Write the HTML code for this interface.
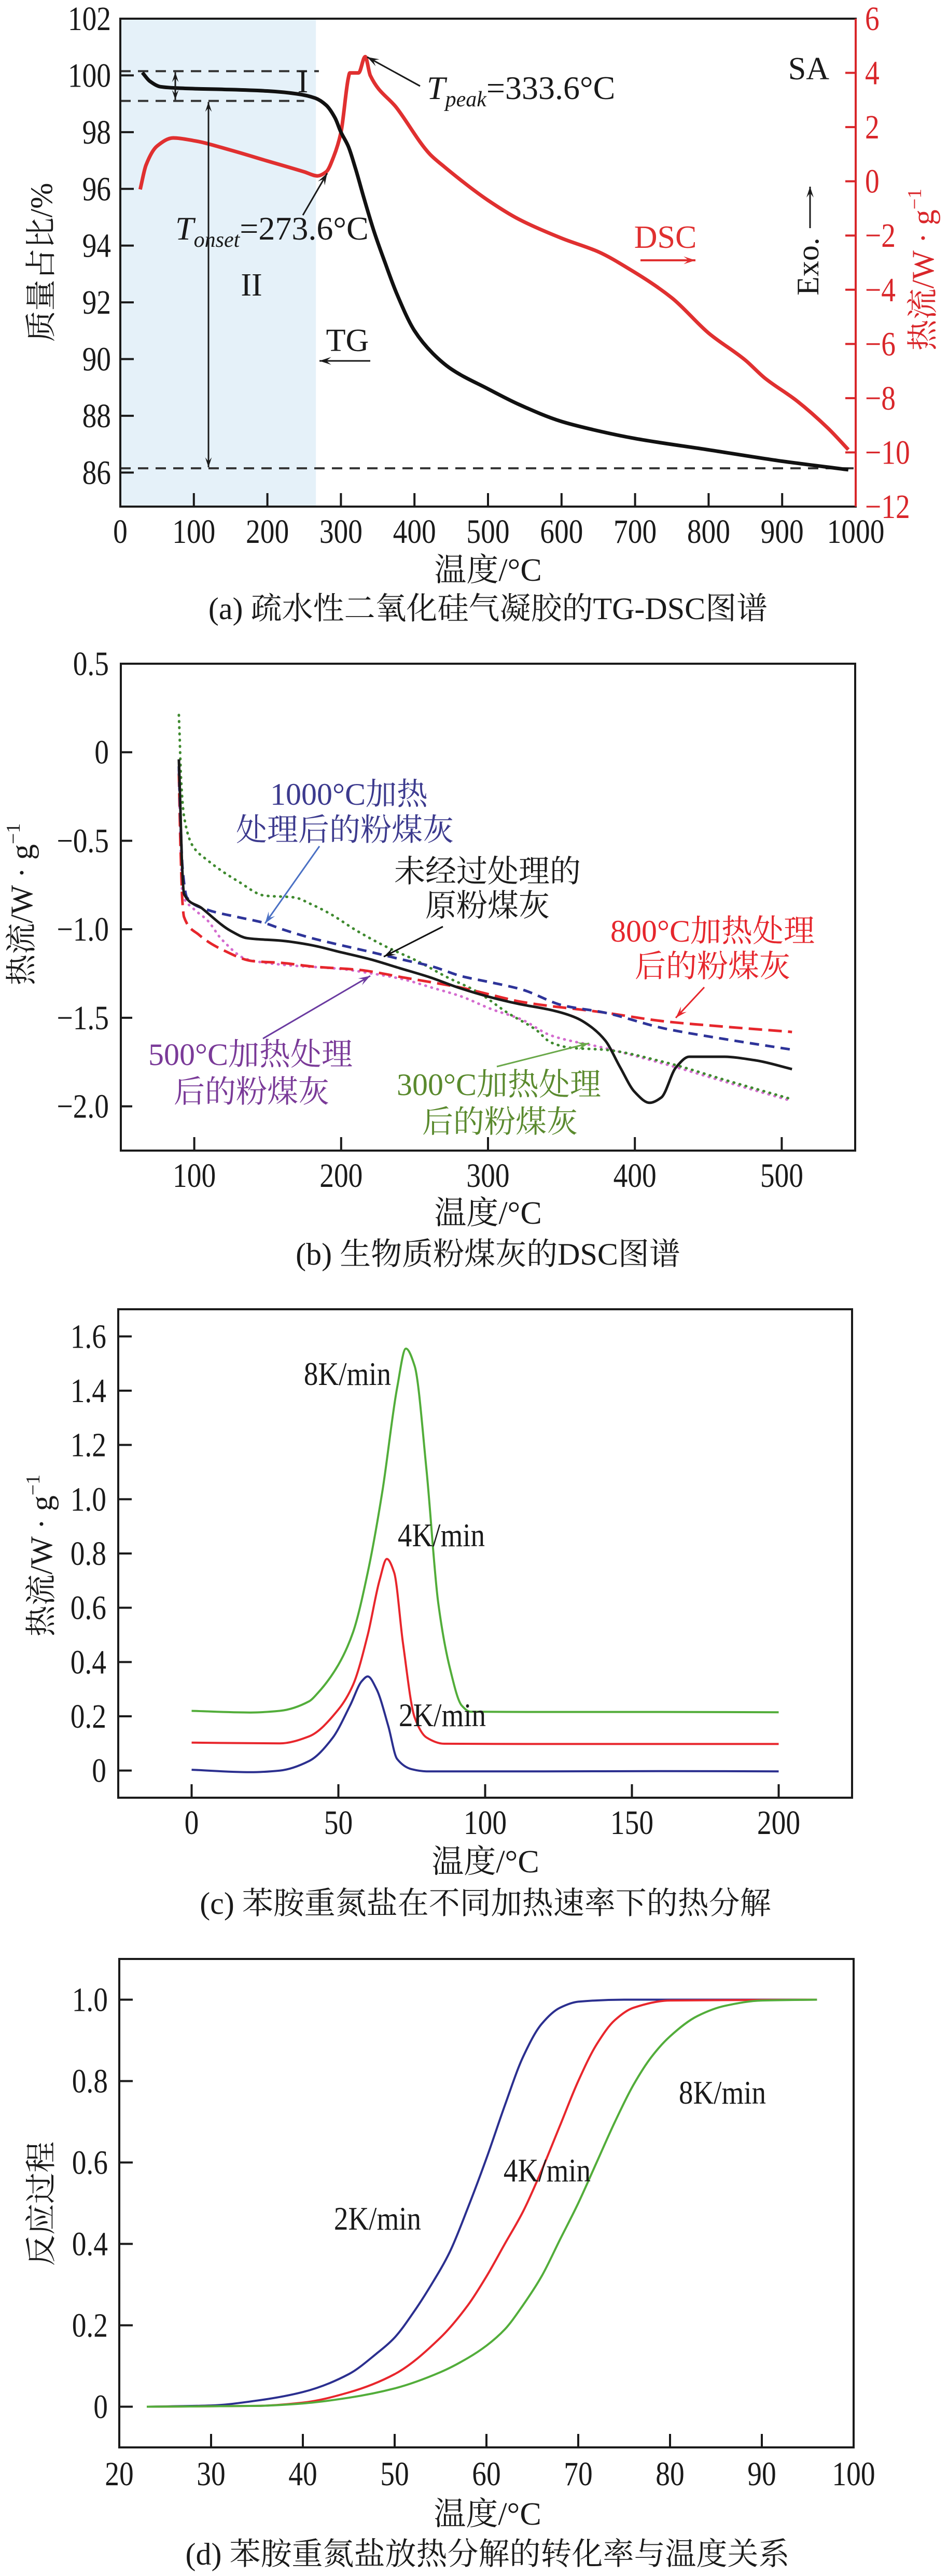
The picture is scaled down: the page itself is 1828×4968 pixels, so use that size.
<!DOCTYPE html>
<html><head><meta charset="utf-8"><style>
html,body{margin:0;padding:0;background:#fff;}
svg{display:block;}
</style></head><body>
<svg id="fig" xmlns="http://www.w3.org/2000/svg" width="1828" height="4968" viewBox="0 0 1828 4968"></svg>
<script>
// ---------- Panel (a) data ----------
const tgTemp = [30,40,55,80,150,200,240,265,280,292,300,310,320,331,345,360,376,400,425,450,500,542,600,653,700,800,900,990];
const tgMass = [100.1,99.8,99.6,99.55,99.5,99.45,99.35,99.2,98.95,98.5,98.0,97.5,96.7,95.7,94.5,93.4,92.3,91.0,90.2,89.65,88.95,88.4,87.8,87.45,87.2,86.8,86.4,86.1];
const dscTemp = [27,35,50,72,100,150,200,250,268,280,290,300,310,312,324,333,340,376,421,440,500,542,600,650,690,750,800,850,876,920,962,990];
const dscFlow = [-0.3,0.6,1.3,1.6,1.5,1.15,0.75,0.35,0.2,0.35,0.9,1.8,3.8,4.0,4.0,4.6,3.9,2.7,1.0,0.55,-0.7,-1.4,-2.1,-2.6,-3.2,-4.3,-5.6,-6.6,-7.25,-8.1,-9.1,-9.9];
const aXTicks = [0,100,200,300,400,500,600,700,800,900,1000];
const aYTicks = [86,88,90,92,94,96,98,100,102];
const aY2Ticks = [6,4,2,0,-2,-4,-6,-8,-10,-12];
// ---------- Panel (b) data ----------
const bBlackT = [89.5,90.5,91.5,93,105,125,136,160,180,200,220,240,260,280,300,320,345,360,370,380,390,400,410,418,428,437,460,482,507];
const bBlackV = [-0.04,-0.3,-0.6,-0.8,-0.88,-1.01,-1.05,-1.065,-1.09,-1.13,-1.17,-1.22,-1.27,-1.33,-1.38,-1.42,-1.46,-1.5,-1.55,-1.63,-1.78,-1.92,-1.98,-1.95,-1.78,-1.72,-1.72,-1.74,-1.79];
const bBlueT = [89.5,90.5,92,95,109,129,148,160,180,200,221,241,262,282,302,323,351,379,420,461,507];
const bBlueV = [-0.08,-0.35,-0.65,-0.82,-0.89,-0.93,-0.965,-1.0,-1.05,-1.09,-1.13,-1.17,-1.21,-1.265,-1.30,-1.34,-1.43,-1.47,-1.56,-1.62,-1.68];
const bRedT = [89.5,90.5,92,93,103,119,140,160,180,213,225,241,262,282,302,323,379,420,461,507];
const bRedV = [-0.12,-0.5,-0.85,-0.93,-1.03,-1.115,-1.18,-1.19,-1.21,-1.23,-1.245,-1.27,-1.30,-1.33,-1.37,-1.41,-1.47,-1.52,-1.55,-1.58];
const bPinkT = [89.5,90.5,92,99,109,119,136,160,201,221,241,262,282,302,323,343,379,420,461,507];
const bPinkV = [-0.1,-0.45,-0.8,-0.88,-0.95,-1.06,-1.17,-1.20,-1.225,-1.25,-1.28,-1.33,-1.38,-1.45,-1.51,-1.60,-1.67,-1.76,-1.86,-1.97];
const bGreenT = [89.5,90,91,93,99,109,130,148,168,180,192,211,231,252,272,292,313,333,343,357,379,420,461,507];
const bGreenV = [0.21,0.1,-0.15,-0.36,-0.53,-0.61,-0.73,-0.81,-0.82,-0.86,-0.91,-1.01,-1.10,-1.18,-1.27,-1.35,-1.47,-1.57,-1.64,-1.67,-1.68,-1.75,-1.85,-1.96];
const bXTicks = [100,200,300,400,500];
const bYTicks = [0.5,0,-0.5,-1.0,-1.5,-2.0];
// ---------- Panel (c) data ----------
const c8T = [0,20,30,40,43,50,55,60,65,70,73,76,80,84,88,92,95,120,160,200];
const c8V = [0.22,0.214,0.22,0.255,0.286,0.39,0.51,0.73,1.03,1.41,1.555,1.49,1.11,0.62,0.377,0.24,0.217,0.216,0.216,0.215];
const c4T = [0,30,40,50,55,60,64,66.5,69,72,76,80,86,120,160,200];
const c4V = [0.103,0.1,0.126,0.225,0.316,0.5,0.70,0.78,0.73,0.47,0.195,0.122,0.099,0.098,0.098,0.098];
const c2T = [0,20,30,40,48,54,58,60,63,67,70,75,80,120,160,200];
const c2V = [0.003,-0.006,0.0,0.035,0.12,0.24,0.33,0.347,0.30,0.164,0.043,0.005,-0.003,-0.003,-0.002,-0.003];
const cXTicks = [0,50,100,150,200];
const cYTicks = [0,0.2,0.4,0.6,0.8,1.0,1.2,1.4,1.6];
// ---------- Panel (d) data ----------
const d2T = [23,30,35,40,45,48,50,52,54,56,58,60,62,64,66,68,70,75,96];
const d2V = [0,0.003,0.015,0.036,0.08,0.13,0.17,0.23,0.30,0.38,0.49,0.61,0.74,0.86,0.94,0.98,0.995,1.0,1.0];
const d4T = [23,35,40,45,50,55,58,60,62,64,66,68,70,72,74,76,80,96];
const d4V = [0,0.002,0.01,0.035,0.08,0.17,0.25,0.32,0.40,0.48,0.58,0.69,0.80,0.89,0.95,0.98,0.998,1.0];
const d8T = [23,35,40,45,50,55,58,60,62,64,66,68,70,72,74,76,78,80,83,86,90,96];
const d8V = [0,0.002,0.008,0.022,0.045,0.085,0.12,0.15,0.19,0.25,0.32,0.41,0.50,0.60,0.70,0.79,0.86,0.91,0.96,0.985,0.998,1.0];
const dXTicks = [20,30,40,50,60,70,80,90,100];
const dYTicks = [0,0.2,0.4,0.6,0.8,1.0];

const NS = 'http://www.w3.org/2000/svg';
const svg = document.getElementById('fig');
const SERIF = '"Liberation Serif","Noto Serif CJK SC",serif';

function mk(tag, attrs, parent, name) {
  const el = document.createElementNS(NS, tag);
  for (const k in attrs) el.setAttribute(k, attrs[k]);
  
  
  (parent || svg).appendChild(el);
  return el;
}
function txt(str, x, y, o, name) {
  o = o || {};
  const t = document.createElementNS(NS, 'text');
  
  
  t.setAttribute('x', 0); t.setAttribute('y', 0);
  t.setAttribute('font-family', SERIF);
  t.setAttribute('font-size', o.size || 64);
  t.setAttribute('fill', o.fill || '#1a1a1a');
  t.setAttribute('text-anchor', o.anchor || 'start');
  if (o.italic) t.setAttribute('font-style', 'italic');
  t.setAttribute('transform', `translate(${x},${y}) rotate(${o.rot || 0}) scale(${o.sx || 1},1)`);
  t.textContent = str;
  svg.appendChild(t);
  return t;
}
// monotone cubic (Fritsch-Carlson) in pixel space, x strictly increasing
function smooth(pts) {
  const n = pts.length;
  const dx = [], s = [];
  for (let i = 0; i < n - 1; i++) {
    dx.push(pts[i + 1][0] - pts[i][0]);
    s.push((pts[i + 1][1] - pts[i][1]) / dx[i]);
  }
  const m = new Array(n);
  m[0] = s[0]; m[n - 1] = s[n - 2];
  for (let i = 1; i < n - 1; i++) {
    if (s[i - 1] * s[i] <= 0) m[i] = 0;
    else {
      const w1 = 2 * dx[i] + dx[i - 1], w2 = dx[i] + 2 * dx[i - 1];
      m[i] = (w1 + w2) / (w1 / s[i - 1] + w2 / s[i]);
    }
  }
  let d = `M${pts[0][0].toFixed(1)},${pts[0][1].toFixed(1)}`;
  for (let i = 0; i < n - 1; i++) {
    const h = dx[i] / 3;
    d += ` C${(pts[i][0] + h).toFixed(1)},${(pts[i][1] + m[i] * h).toFixed(1)} ${(pts[i + 1][0] - h).toFixed(1)},${(pts[i + 1][1] - m[i + 1] * h).toFixed(1)} ${pts[i + 1][0].toFixed(1)},${pts[i + 1][1].toFixed(1)}`;
  }
  return d;
}
function series(xs, ys, sx, sy, style, name) {
  const pts = xs.map((x, i) => [sx(x), sy(ys[i])]);
  const a = Object.assign({ d: smooth(pts), fill: 'none', 'stroke-linejoin': 'round' }, style);
  return mk('path', a, svg, name);
}
function line(x1, y1, x2, y2, style, name) {
  return mk('line', Object.assign({ x1, y1, x2, y2 }, style), svg, name);
}
function arrow(x1, y1, x2, y2, color, w, name, head) {
  head = head || 26;
  line(x1, y1, x2, y2, { stroke: color, 'stroke-width': w }, name);
  const ang = Math.atan2(y2 - y1, x2 - x1);
  const a1 = ang + Math.PI - 0.32, a2 = ang + Math.PI + 0.32;
  const p = `${x2},${y2} ${x2 + head * Math.cos(a1)},${y2 + head * Math.sin(a1)} ${x2 - head * 0.55 * Math.cos(ang)},${y2 - head * 0.55 * Math.sin(ang)} ${x2 + head * Math.cos(a2)},${y2 + head * Math.sin(a2)}`;
  mk('polygon', { points: p, fill: color }, svg, name + '-head');
}
function frame(L, T, R, B, name) {
  mk('rect', { x: L, y: T, width: R - L, height: B - T, fill: 'none', stroke: '#1a1a1a', 'stroke-width': 4 }, svg, name);
}
function lin(d0, d1, r0, r1) { return v => r0 + (v - d0) / (d1 - d0) * (r1 - r0); }
function sup(parent, str, dy, size, name, extra) {
  const t = document.createElementNS(NS, 'tspan');
  
  
  t.setAttribute('dy', dy); if (size) t.setAttribute('font-size', size);
  if (extra) t.setAttribute('font-style', extra);
  t.textContent = str;
  parent.appendChild(t);
}

// =============== Panel (a) ===============
{
  const L = 232, R = 1650, T = 36, B = 977;
  const xa = lin(0, 1000, L, R), ya = lin(102, 84.8, T, B), y2 = lin(6, -12, T, B);
  mk('rect', { x: L, y: T, width: xa(266) - L, height: B - T, fill: '#e5f1f9' }, svg, 'region-ii-shade');
  line(L, ya(100.15), xa(270), ya(100.15), { stroke: '#333', 'stroke-width': 4, 'stroke-dasharray': '20 14' }, 'ref-line-100');
  line(L, ya(99.1), xa(250), ya(99.1), { stroke: '#333', 'stroke-width': 4, 'stroke-dasharray': '20 14' }, 'ref-line-99');
  line(L, ya(86.15), R, ya(86.15), { stroke: '#333', 'stroke-width': 4, 'stroke-dasharray': '20 14' }, 'ref-line-86');
  series(dscTemp, dscFlow, xa, y2, { stroke: '#e03030', 'stroke-width': 7 }, 'dsc-curve');
  series(tgTemp, tgMass, xa, ya, { stroke: '#111', 'stroke-width': 7 }, 'tg-curve');
  frame(L, T, R, B, 'plot-a-frame');
  line(R, T, R, B, { stroke: '#d9262a', 'stroke-width': 4 }, 'right-axis-line');
  aYTicks.forEach(v => {
    if (v < 102) line(L, ya(v), L + 26, ya(v), { stroke: '#1a1a1a', 'stroke-width': 4 }, 'y-tick');
    txt(String(v), 214, ya(v) + 22, { anchor: 'end', size: 66, sx: 0.84 }, 'y-tick-label');
  });
  aXTicks.forEach(v => {
    if (v > 0 && v < 1000) line(xa(v), B, xa(v), B - 26, { stroke: '#1a1a1a', 'stroke-width': 4 }, 'x-tick');
    txt(String(v), xa(v), 1047, { anchor: 'middle', size: 66, sx: 0.84 }, 'x-tick-label');
  });
  aY2Ticks.forEach(v => {
    if (v < 6 && v > -12) line(R, y2(v), R - 20, y2(v), { stroke: '#d9262a', 'stroke-width': 4 }, 'y2-tick');
    txt(String(v).replace('-', '\u2212'), 1668, y2(v) + 22, { size: 66, sx: 0.84, fill: '#d9262a' }, 'y2-tick-label');
  });
  txt('质量占比/%', 100, 506, { anchor: 'middle', size: 60, rot: -90 }, 'y-axis-title');
  const rt = txt('热流/W · g', 1800, 520, { anchor: 'middle', size: 60, rot: -90, fill: '#d9262a' }, 'y2-axis-title');
  sup(rt, '\u22121', -24, 38, 'y2-axis-title-exponent');
  txt('温度/°C', 941, 1120, { anchor: 'middle', size: 62 }, 'x-axis-title');
  txt('(a) 疏水性二氧化硅气凝胶的TG-DSC图谱', 941, 1194, { anchor: 'middle', size: 60 }, 'caption-a');
  arrow(338, 165, 338, ya(100.15) + 2, '#1a1a1a', 3, 'stage-i-arrow-up', 20);
  arrow(338, 165, 338, ya(99.1) - 2, '#1a1a1a', 3, 'stage-i-arrow-down', 20);
  arrow(402, 550, 402, ya(99.1) + 2, '#1a1a1a', 3, 'stage-ii-arrow-up', 20);
  arrow(402, 550, 402, ya(86.15) - 2, '#1a1a1a', 3, 'stage-ii-arrow-down', 20);
  txt('I', 584, 178, { anchor: 'middle', size: 62 }, 'stage-i-label');
  txt('II', 485, 570, { anchor: 'middle', size: 62 }, 'stage-ii-label');
  const on = txt('T', 338, 462, { size: 64, italic: true }, 'tonset-label');
  sup(on, 'onset', 14, 42, 'tonset-subscript');
  sup(on, '=273.6°C', -14, null, 'tonset-value', 'normal');
  arrow(584, 415, 631, 334, '#1a1a1a', 3, 'tonset-arrow', 24);
  const pk = txt('T', 823, 191, { size: 64, italic: true }, 'tpeak-label');
  sup(pk, 'peak', 14, 42, 'tpeak-subscript');
  sup(pk, '=333.6°C', -14, null, 'tpeak-value', 'normal');
  arrow(810, 166, 708, 110, '#1a1a1a', 3, 'tpeak-arrow', 24);
  txt('TG', 670, 677, { anchor: 'middle', size: 62 }, 'tg-label');
  arrow(714, 696, 616, 696, '#1a1a1a', 3, 'tg-arrow', 24);
  txt('SA', 1599, 153, { anchor: 'end', size: 62 }, 'sample-label');
  txt('DSC', 1283, 478, { anchor: 'middle', size: 62, fill: '#e03030' }, 'dsc-label');
  arrow(1235, 502, 1341, 502, '#e03030', 4, 'dsc-arrow', 24);
  txt('Exo.', 1578, 514, { anchor: 'middle', size: 60, rot: -90 }, 'exo-label');
  arrow(1562, 440, 1562, 360, '#1a1a1a', 3, 'exo-arrow', 22);
}

// =============== Panel (b) ===============
{
  const L = 233, R = 1649, T = 1280, B = 2219;
  const xb = lin(50, 550, L, R), yb = lin(0.5, -2.25, T, B);
  series(bPinkT, bPinkV, xb, yb, { stroke: '#d46ccf', 'stroke-width': 5, 'stroke-dasharray': '1 11', 'stroke-linecap': 'round' }, 'series-500c');
  series(bGreenT, bGreenV, xb, yb, { stroke: '#3f8a2f', 'stroke-width': 5, 'stroke-dasharray': '1 11', 'stroke-linecap': 'round' }, 'series-300c');
  series(bRedT, bRedV, xb, yb, { stroke: '#e6262c', 'stroke-width': 5, 'stroke-dasharray': '26 12' }, 'series-800c');
  series(bBlueT, bBlueV, xb, yb, { stroke: '#2e3499', 'stroke-width': 5, 'stroke-dasharray': '18 12' }, 'series-1000c');
  series(bBlackT, bBlackV, xb, yb, { stroke: '#1a1a1a', 'stroke-width': 5 }, 'series-untreated');
  frame(L, T, R, B, 'plot-b-frame');
  bYTicks.forEach(v => {
    if (v < 0.5) line(L, yb(v), L + 22, yb(v), { stroke: '#1a1a1a', 'stroke-width': 4 }, 'y-tick');
    txt(v === 0 ? '0' : (v < 0 ? '\u2212' : '') + Math.abs(v).toFixed(1), 210, yb(v) + 22, { anchor: 'end', size: 66, sx: 0.84 }, 'y-tick-label');
  });
  bXTicks.forEach(v => {
    line(xb(v), B, xb(v), B - 26, { stroke: '#1a1a1a', 'stroke-width': 4 }, 'x-tick');
    txt(String(v), xb(v), 2289, { anchor: 'middle', size: 66, sx: 0.84 }, 'x-tick-label');
  });
  const bt = txt('热流/W · g', 62, 1744, { anchor: 'middle', size: 60, rot: -90 }, 'y-axis-title');
  sup(bt, '\u22121', -24, 38, 'y-axis-title-exponent');
  txt('温度/°C', 941, 2360, { anchor: 'middle', size: 62 }, 'x-axis-title');
  txt('(b) 生物质粉煤灰的DSC图谱', 941, 2439, { anchor: 'middle', size: 60 }, 'caption-b');
  txt('1000°C加热', 521, 1552, { size: 60, fill: '#3c3a8e' }, 'label-1000c-line1');
  txt('处理后的粉煤灰', 455, 1621, { size: 60, fill: '#3c3a8e' }, 'label-1000c-line2');
  arrow(616, 1632, 511, 1781, '#4a70c4', 3, 'label-1000c-arrow', 24);
  txt('未经过处理的', 760, 1701, { size: 60 }, 'label-untreated-line1');
  txt('原粉煤灰', 820, 1767, { size: 60 }, 'label-untreated-line2');
  arrow(854, 1787, 740, 1845, '#111', 3, 'label-untreated-arrow', 24);
  txt('800°C加热处理', 1177, 1816, { size: 60, fill: '#e6262c' }, 'label-800c-line1');
  txt('后的粉煤灰', 1224, 1884, { size: 60, fill: '#e6262c' }, 'label-800c-line2');
  arrow(1358, 1904, 1303, 1963, '#e6262c', 3, 'label-800c-arrow', 24);
  txt('500°C加热处理', 286, 2054, { size: 60, fill: '#7a3a98' }, 'label-500c-line1');
  txt('后的粉煤灰', 335, 2126, { size: 60, fill: '#7a3a98' }, 'label-500c-line2');
  arrow(507, 2003, 714, 1882, '#6a3aa0', 3, 'label-500c-arrow', 24);
  txt('300°C加热处理', 765, 2112, { size: 60, fill: '#5a8a2e' }, 'label-300c-line1');
  txt('后的粉煤灰', 814, 2184, { size: 60, fill: '#5a8a2e' }, 'label-300c-line2');
  arrow(958, 2057, 1136, 2012, '#6aa84a', 3, 'label-300c-arrow', 24);
}

// =============== Panel (c) ===============
{
  const L = 228, R = 1643, T = 2525, B = 3467;
  const xc = lin(-25, 225, L, R), yc = lin(1.7, -0.1, T, B);
  series(c2T, c2V, xc, yc, { stroke: '#2b2f8f', 'stroke-width': 4 }, 'series-2k');
  series(c4T, c4V, xc, yc, { stroke: '#e8262c', 'stroke-width': 4 }, 'series-4k');
  series(c8T, c8V, xc, yc, { stroke: '#52ad3a', 'stroke-width': 4 }, 'series-8k');
  frame(L, T, R, B, 'plot-c-frame');
  cYTicks.forEach(v => {
    line(L, yc(v), L + 26, yc(v), { stroke: '#1a1a1a', 'stroke-width': 4 }, 'y-tick');
    txt(v === 0 ? '0' : v.toFixed(1), 205, yc(v) + 22, { anchor: 'end', size: 66, sx: 0.84 }, 'y-tick-label');
  });
  cXTicks.forEach(v => {
    line(xc(v), B, xc(v), B - 26, { stroke: '#1a1a1a', 'stroke-width': 4 }, 'x-tick');
    txt(String(v), xc(v), 3537, { anchor: 'middle', size: 66, sx: 0.84 }, 'x-tick-label');
  });
  const ct = txt('热流/W · g', 100, 3000, { anchor: 'middle', size: 60, rot: -90 }, 'y-axis-title');
  sup(ct, '\u22121', -24, 38, 'y-axis-title-exponent');
  txt('温度/°C', 936, 3611, { anchor: 'middle', size: 62 }, 'x-axis-title');
  txt('(c) 苯胺重氮盐在不同加热速率下的热分解', 936, 3691, { anchor: 'middle', size: 60 }, 'caption-c');
  txt('8K/min', 670, 2671, { anchor: 'middle', size: 64, sx: 0.86 }, 'label-8k');
  txt('4K/min', 851, 2982, { anchor: 'middle', size: 64, sx: 0.86 }, 'label-4k');
  txt('2K/min', 853, 3329, { anchor: 'middle', size: 64, sx: 0.86 }, 'label-2k');
}

// =============== Panel (d) ===============
{
  const L = 230, R = 1646, T = 3778, B = 4720;
  const xd = lin(20, 100, L, R), yd = lin(1.1, -0.1, T, B);
  series(d2T, d2V, xd, yd, { stroke: '#2b2f8f', 'stroke-width': 4 }, 'series-2k');
  series(d4T, d4V, xd, yd, { stroke: '#e8262c', 'stroke-width': 4 }, 'series-4k');
  series(d8T, d8V, xd, yd, { stroke: '#52ad3a', 'stroke-width': 4 }, 'series-8k');
  frame(L, T, R, B, 'plot-d-frame');
  dYTicks.forEach(v => {
    line(L, yd(v), L + 26, yd(v), { stroke: '#1a1a1a', 'stroke-width': 4 }, 'y-tick');
    txt(v === 0 ? '0' : v.toFixed(1), 208, yd(v) + 22, { anchor: 'end', size: 66, sx: 0.84 }, 'y-tick-label');
  });
  dXTicks.forEach(v => {
    if (v > 20 && v < 100) line(xd(v), B, xd(v), B - 26, { stroke: '#1a1a1a', 'stroke-width': 4 }, 'x-tick');
    txt(String(v), xd(v), 4793, { anchor: 'middle', size: 66, sx: 0.84 }, 'x-tick-label');
  });
  txt('反应过程', 100, 4250, { anchor: 'middle', size: 60, rot: -90 }, 'y-axis-title');
  txt('温度/°C', 940, 4869, { anchor: 'middle', size: 62 }, 'x-axis-title');
  txt('(d) 苯胺重氮盐放热分解的转化率与温度关系', 940, 4946, { anchor: 'middle', size: 60 }, 'caption-d');
  txt('8K/min', 1393, 4057, { anchor: 'middle', size: 64, sx: 0.86 }, 'label-8k');
  txt('4K/min', 1055, 4207, { anchor: 'middle', size: 64, sx: 0.86 }, 'label-4k');
  txt('2K/min', 728, 4300, { anchor: 'middle', size: 64, sx: 0.86 }, 'label-2k');
}
</script>
</body></html>
